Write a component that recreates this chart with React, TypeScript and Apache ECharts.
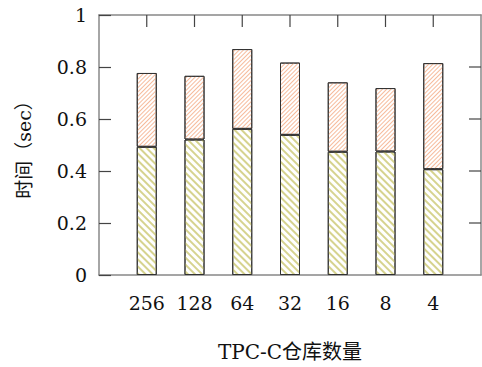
import React, { useEffect, useRef } from "react";
import * as echarts from "echarts";

const categories = ["256", "128", "64", "32", "16", "8", "4"];
const bottomPart = [0.493, 0.521, 0.562, 0.539, 0.474, 0.475, 0.407];
const topPart = [0.284, 0.245, 0.307, 0.278, 0.267, 0.244, 0.408];
const yTicks = [0.2, 0.4, 0.6, 0.8];

// padded slots so that bars sit at 1..7 of a 0..8 axis
const slots = ["", ...categories, ""];

export default function App() {
  const ref = useRef<HTMLDivElement>(null);
  useEffect(() => {
    if (!ref.current) return;
    const chart = echarts.init(ref.current, null, { renderer: "svg" });
    const serif = "DejaVu Serif, Liberation Serif, serif";
    const cjk = "DejaVu Serif, Noto Sans CJK SC, serif";
    const pad = (arr: number[]) => ["-", ...arr, "-"];
    chart.setOption({
      animation: false,
      aria: { enabled: true, decal: { show: true } },
      grid: { left: 99, right: 1, top: 15, bottom: 91, containLabel: false },
      xAxis: [
        {
          type: "category",
          data: slots,
          boundaryGap: false,
          position: "bottom",
          name: "TPC-C仓库数量",
          nameLocation: "middle",
          nameGap: 67,
          nameTextStyle: { fontFamily: cjk, fontSize: 20, color: "#111" },
          axisLine: { show: true, onZero: false, lineStyle: { color: "#888", width: 1.5 } },
          axisTick: { show: false },
          splitLine: { show: false },
          axisLabel: {
            margin: 18,
            interval: 0,
            fontFamily: serif,
            fontSize: 19,
            color: "#111",
          },
        },
        {
          type: "category",
          data: slots,
          boundaryGap: false,
          position: "top",
          axisLine: { show: true, onZero: false, lineStyle: { color: "#888", width: 1.5 } },
          axisTick: { show: false },
          axisLabel: { show: false },
          splitLine: { show: false },
        },
      ],
      yAxis: [
        {
          type: "value",
          min: 0,
          max: 1,
          interval: 0.2,
          position: "left",
          name: "时间（sec）",
          nameLocation: "middle",
          nameGap: 66,
          nameRotate: 90,
          nameTextStyle: { fontFamily: cjk, fontSize: 19, color: "#111" },
          axisLine: { show: true, onZero: false, lineStyle: { color: "#888", width: 1.5 } },
          axisTick: { show: true, inside: true, length: 12, lineStyle: { color: "#444", width: 1.2 } },
          splitLine: { show: false },
          axisLabel: {
            margin: 12,
            fontFamily: serif,
            fontSize: 19,
            color: "#111",
          },
        },
        {
          type: "value",
          min: 0,
          max: 1,
          interval: 0.2,
          position: "right",
          axisLine: { show: true, onZero: false, lineStyle: { color: "#888", width: 1.5 } },
          axisTick: { show: false },
          axisLabel: { show: false },
          splitLine: { show: false },
        },
      ],
      series: [
        {
          type: "bar",
          stack: "t",
          barWidth: 20,
          data: pad(bottomPart),
          itemStyle: {
            color: "#ffffff",
            borderColor: "#333",
            borderWidth: 1,
            decal: {
              symbol: "rect",
              symbolSize: 1,
              color: "#d6d38f",
              backgroundColor: "#ffffff",
              dashArrayX: [1, 0],
              dashArrayY: [2, 3],
              rotation: Math.PI / 4,
            },
          },
        },
        {
          type: "bar",
          stack: "t",
          barWidth: 20,
          data: pad(topPart),
          itemStyle: {
            color: "#ffffff",
            borderColor: "#333",
            borderWidth: 1,
            decal: {
              symbol: "rect",
              symbolSize: 1,
              color: "#f6bb9c",
              backgroundColor: "#ffffff",
              dashArrayX: [1, 0],
              dashArrayY: [1, 1.2],
              rotation: -Math.PI / 4,
            },
          },
        },
      ],
    });

    // inward ticks on the top and right frame edges, positioned through the axes' scales
    const tickLen = 12;
    const tickStyle = { stroke: "#444", lineWidth: 1.2 };
    const yTop = chart.convertToPixel({ yAxisIndex: 0 }, 1) as number;
    const xRight = chart.convertToPixel({ xAxisIndex: 0 }, slots.length - 1) as number;
    const marks: any[] = [];
    categories.forEach((_, i) => {
      const x = chart.convertToPixel({ xAxisIndex: 0 }, i + 1) as number;
      marks.push({
        type: "line",
        silent: true,
        z: 10,
        shape: { x1: x, y1: yTop, x2: x, y2: yTop + tickLen },
        style: tickStyle,
      });
    });
    yTicks.forEach((v) => {
      const y = chart.convertToPixel({ yAxisIndex: 0 }, v) as number;
      marks.push({
        type: "line",
        silent: true,
        z: 10,
        shape: { x1: xRight - tickLen, y1: y, x2: xRight, y2: y },
        style: tickStyle,
      });
    });
    chart.setOption({ graphic: marks });

    return () => chart.dispose();
  }, []);
  return (
    <div style={{ position: "absolute", left: 0, top: 0, width: 482, height: 367, overflow: "hidden" }}>
      <div ref={ref} style={{ width: 484, height: 367 }} />
    </div>
  );
}
